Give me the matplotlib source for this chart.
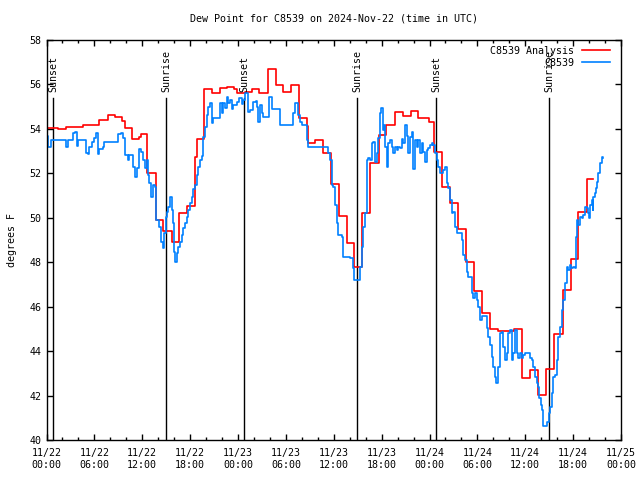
import numpy as np
import matplotlib
matplotlib.use("Agg")
import matplotlib.pyplot as plt

# hours since 2024-11-22 00:00 UTC
red_t = [0.0, 1.5, 2.5, 4.6, 6.6, 7.7, 8.6, 9.5, 9.8, 10.7, 11.6, 11.8, 12.6, 13.7,
         14.6, 15.7, 16.6, 17.6, 18.6, 18.8, 19.7, 20.7, 21.7, 22.6, 23.5, 23.9,
         24.9, 25.8, 26.6, 27.7, 28.7, 29.6, 30.7, 31.7, 32.6, 32.8, 33.6, 34.6,
         35.6, 36.6, 37.6, 38.5, 39.6, 40.5, 41.7, 42.6, 43.7, 44.7, 45.7, 46.6,
         47.9, 48.6, 49.6, 50.6, 51.6, 52.6, 53.6, 54.6, 55.6, 56.6, 58.6, 59.6,
         60.6, 61.6, 62.6, 63.6, 64.7, 65.7, 66.6, 67.7, 68.5]
red_v = [54.02, 53.98, 54.1, 54.17, 54.4, 54.63, 54.52, 54.37, 54.05, 53.54, 53.62,
         53.77, 52.0, 49.9, 49.4, 48.9, 50.2, 50.54, 52.75, 53.54, 55.78, 55.6, 55.82,
         55.87, 55.78, 55.6, 55.64, 55.78, 55.6, 56.68, 55.97, 55.64, 55.97, 54.48,
         54.14, 53.38, 53.5, 52.9, 51.52, 50.08, 48.88, 47.8, 50.2, 52.45, 53.72,
         54.17, 54.75, 54.58, 54.8, 54.48, 54.3, 52.94, 51.4, 50.65, 49.5, 48.0,
         46.72, 45.7, 44.98, 44.92, 44.98, 42.77, 43.15, 42.02, 43.18, 44.76, 46.75,
         48.13, 50.25, 51.73, 51.73]

blue_t = [0.0, 0.15, 0.36, 0.56, 2.36, 2.44, 2.65, 3.07, 3.36, 3.57, 3.78, 3.99, 4.74,
          4.95, 5.16, 5.37, 5.70, 5.99, 6.2, 6.41, 6.62, 7.04, 7.25, 8.71, 8.92, 9.33,
          9.63, 9.84, 10.17, 10.38, 10.71, 10.88, 11.09, 11.3, 11.55, 11.84, 12.13,
          12.34, 12.55, 12.68, 12.89, 13.1, 13.39, 13.6, 13.72, 14.14, 14.35, 14.56,
          14.77, 14.98, 15.06, 15.27, 15.48, 15.69, 15.81, 15.98, 16.1, 16.31, 16.52,
          16.73, 16.94, 17.15, 17.35, 17.56, 17.77, 17.98, 18.19, 18.4, 18.61, 18.82,
          19.03, 19.23, 19.44, 19.65, 19.86, 20.07, 20.28, 20.49, 20.7, 20.91, 21.32,
          21.53, 21.74, 21.95, 22.16, 22.37, 22.58, 22.79, 23.0, 23.2, 23.41, 23.83,
          24.16, 24.45, 24.67, 24.88, 25.08, 25.29, 25.5, 25.92, 26.21, 26.34, 26.55,
          26.75, 26.96, 27.17, 27.8, 27.93, 28.22, 29.06, 29.27, 29.47, 30.72, 30.93,
          31.14, 31.43, 31.56, 31.77, 31.97, 32.39, 32.6, 32.81, 35.11, 35.32, 35.53,
          35.74, 35.95, 36.16, 36.36, 36.57, 36.99, 37.2, 38.03, 38.45, 38.53, 39.08,
          39.29, 39.5, 39.7, 39.91, 40.21, 40.33, 40.54, 40.75, 40.96, 41.17, 41.37,
          41.58, 41.79, 41.92, 42.13, 42.29, 42.42, 42.63, 42.84, 43.05, 43.25, 43.46,
          43.67, 43.88, 44.09, 44.3, 44.51, 44.72, 44.92, 45.13, 45.34, 45.55, 45.76,
          45.88, 45.97, 46.18, 46.38, 46.59, 46.8, 47.01, 47.22, 47.43, 47.64, 47.85,
          48.06, 48.27, 48.47, 48.68, 48.89, 49.1, 49.31, 49.52, 49.73, 49.94, 50.15,
          50.35, 50.56, 50.77, 50.98, 51.19, 51.4, 51.82, 52.03, 52.24, 52.44, 52.65,
          52.86, 53.07, 53.28, 53.49, 53.7, 53.91, 54.12, 54.32, 54.53, 54.95, 55.16,
          55.37, 55.58, 55.79, 56.0, 56.21, 56.33, 56.5, 56.62, 56.83, 57.04, 57.25,
          57.46, 57.67, 57.88, 58.09, 58.29, 58.5, 58.71, 58.92, 59.13, 59.34, 59.54,
          59.75, 59.96, 60.38, 60.59, 60.8, 61.0, 61.21, 61.42, 61.63, 61.76, 61.93,
          62.05, 62.26, 62.6, 62.76, 62.97, 63.09, 63.3, 63.51, 63.72, 63.93, 64.14,
          64.35, 64.56, 64.76, 64.97, 65.18, 65.39, 65.6, 65.73, 66.02, 66.23, 66.35,
          66.52, 66.65, 66.86, 67.06, 67.27, 67.48, 67.69, 67.9, 68.02, 68.11, 68.32,
          68.44, 68.52, 68.73, 68.86, 69.03, 69.15, 69.36, 69.57, 69.78]
blue_v = [53.68, 53.2, 53.17, 53.5, 53.5, 53.17, 53.5, 53.5, 53.8, 53.87, 53.23, 53.5,
          53.5, 52.9, 52.86, 53.2, 53.42, 53.57, 53.8, 52.86, 53.08, 53.17, 53.42, 53.42,
          53.77, 53.83, 53.57, 52.83, 52.6, 52.83, 52.83, 52.3, 51.82, 52.23, 53.08,
          52.97, 52.6, 52.23, 52.6, 51.92, 51.55, 50.95, 51.47, 51.4, 49.9, 49.6, 48.92,
          48.62, 49.3, 50.05, 50.27, 50.5, 50.92, 50.35, 49.75, 48.47, 48.02, 48.4, 48.7,
          48.92, 49.22, 49.52, 49.75, 50.05, 50.35, 50.65, 50.95, 51.28, 51.47, 51.92,
          52.27, 52.6, 52.78, 53.65, 54.1, 54.63, 55.0, 55.15, 54.25, 54.48, 54.48, 54.48,
          55.15, 54.7, 55.15, 54.93, 55.45, 55.15, 55.3, 54.88, 55.07, 55.22, 55.38,
          55.12, 55.3, 55.6, 55.63, 54.77, 54.85, 55.22, 55.27, 55.0, 54.33, 55.07, 54.7,
          54.55, 54.55, 55.45, 54.88, 54.88, 54.17, 54.17, 54.17, 54.7, 55.15, 55.15,
          54.63, 54.33, 54.17, 54.17, 53.5, 53.17, 53.17, 52.9, 52.6, 51.47, 51.4, 50.57,
          49.75, 49.22, 49.15, 48.25, 48.18, 47.72, 47.2, 47.2, 47.8, 48.7, 49.6, 50.2,
          52.6, 52.68, 52.6, 53.35, 53.42, 52.52, 52.9, 53.57, 54.7, 54.92, 53.95, 54.17,
          53.2, 52.3, 53.35, 53.5, 53.2, 52.9, 53.2, 53.05, 53.17, 53.13, 53.53, 53.35,
          54.17, 53.67, 52.92, 53.62, 53.87, 52.6, 52.18, 53.5, 53.2, 53.5, 52.92, 53.35,
          52.98, 52.52, 53.05, 53.13, 53.27, 53.38, 53.27, 52.92, 52.6, 52.3, 52.03,
          52.03, 52.15, 52.3, 51.55, 51.32, 50.8, 50.2, 50.27, 49.6, 49.3, 49.3, 49.0,
          48.32, 48.1, 47.57, 47.35, 47.35, 46.6, 46.37, 46.6, 46.3, 46.0, 45.4, 45.58,
          45.58, 45.03, 44.65, 44.27, 43.75, 43.3, 42.85, 42.58, 42.58, 43.3, 44.8, 44.87,
          44.2, 43.6, 43.9, 44.8, 44.95, 43.6, 43.9, 44.95, 43.9, 43.68, 43.9, 43.68,
          43.82, 43.9, 43.9, 43.68, 43.6, 43.3, 42.85, 42.55, 42.4, 41.88, 41.58, 41.35,
          40.64, 40.64, 40.83, 41.2, 41.5, 42.1, 42.85, 42.93, 43.6, 44.65, 45.1, 45.85,
          46.3, 47.05, 47.8, 47.65, 47.87, 47.72, 47.8, 47.72, 49.15, 49.9, 49.68, 50.05,
          49.97, 50.12, 50.5, 50.42, 50.2, 49.97, 50.57, 50.8, 50.35, 50.95, 51.1, 51.32,
          51.62, 52.0, 52.45, 52.75, 52.68]

sun_t = [0.83, 15.0, 24.8, 38.95, 48.85, 63.0]
sun_labels = ["Sunset", "Sunrise", "Sunset", "Sunrise", "Sunset", "Sunrise"]

tick_hours = list(range(0, 73, 6))
tick_labels = ["11/22\n00:00", "11/22\n06:00", "11/22\n12:00", "11/22\n18:00",
               "11/23\n00:00", "11/23\n06:00", "11/23\n12:00", "11/23\n18:00",
               "11/24\n00:00", "11/24\n06:00", "11/24\n12:00", "11/24\n18:00",
               "11/25\n00:00"]

plt.rcParams['font.family'] = 'DejaVu Sans Mono'
plt.rcParams['font.size'] = 7.2

fig = plt.figure(figsize=(6.4, 4.8), dpi=100)
ax = fig.add_axes([46.5 / 640, 40 / 480, 574.5 / 640, 400 / 480])

# sunrise / sunset markers
for t, lab in zip(sun_t, sun_labels):
    ax.axvline(t, ymin=0, ymax=0.855, color='black', lw=1.0)
    ax.text(t, 0.87, lab, transform=ax.get_xaxis_transform(), rotation=90,
            ha='center', va='bottom', fontsize=7.2)

ax.step(red_t, red_v, where='post', color='#ff0000', lw=1.2, label='C8539 Analysis')
ax.step(blue_t, blue_v, where='post', color='#0080ff', lw=1.2, label='C8539')

ax.set_xlim(0, 72)
ax.set_ylim(40, 58)
ax.set_xticks(tick_hours)
ax.set_xticklabels(tick_labels, linespacing=1.15)
ax.set_xticks(range(0, 73, 2), minor=True)
ax.set_yticks(range(40, 59, 2))
ax.tick_params(which='both', direction='in', top=True, right=True, width=1.0)
ax.tick_params(which='major', length=4.5)
ax.tick_params(axis='x', which='major', pad=6)
ax.tick_params(which='minor', length=2.2)
for s in ax.spines.values():
    s.set_linewidth(1.0)

ax.set_title('Dew Point for C8539 on 2024-Nov-22 (time in UTC)', fontsize=7.2, pad=13.5)
ax.set_ylabel('degrees F', labelpad=9)

ax.legend(loc='upper right', bbox_to_anchor=((610 - 46.5) / 574.5, 0.985),
          frameon=False, markerfirst=False, borderpad=0, borderaxespad=0,
          handlelength=2.8, handletextpad=0.8, labelspacing=0.2, fontsize=7.2)

fig.savefig('out.png', dpi=100)
